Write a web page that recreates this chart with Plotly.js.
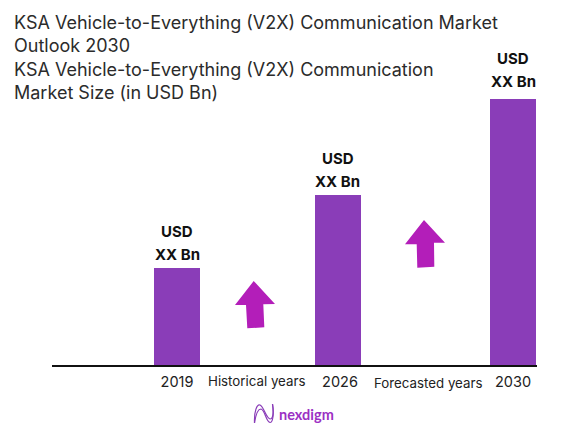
<!DOCTYPE html>
<html>
<head>
<meta charset="utf-8">
<script src="https://cdn.plot.ly/plotly-3.0.1.min.js"></script>
<style>html,body{margin:0;padding:0;background:#fff}</style>
</head>
<body>
<div id="chart" style="width:576px;height:438px"></div>
<script>
const titleLines = [
  "KSA Vehicle-to-Everything (V2X) Communication Market",
  "Outlook 2030",
  "KSA Vehicle-to-Everything (V2X) Communication",
  "Market Size (in USD Bn)"
];
const years = ["2019", "2026", "2030"];
const marketSize = [97, 170, 266];
const valueLabelTop = "USD";
const valueLabelBottom = "XX Bn";
const periodLabels = ["Historical years", "Forecasted years"];
const brandName = "nexdigm";

// Layout: the x axis is scaled in pixels of the picture.
const barCentres = [177, 337.5, 513];
const yearLabelCentres = [177, 340, 513];
const periodCentres = [256.5, 428];
const periodDrop = [6, 8];
const labelLift = [0, 0, 4];
const barColor = "#8A3DB8";
const arrowColor = "#B31EB9";
const textFont = "Inter, 'Liberation Sans', sans-serif";
const plot = {l: 52, r: 39, t: 66, b: 73, w: 485, h: 299};

const upArrows = [
  "M253.7,281 L275,304 L263.3,304.3 L264.3,327.3 L247.3,328.3 L246,305 L235,305 Z",
  "M424,220 L445,242.7 L434,242.7 L434.3,266.7 L417.3,267.7 L416.7,244.3 L405,244.3 Z"
];
const logoPaths = [
  "M254.5,423 C254,411 257,404 260,405 C264,407 266,418 270,419 C273,419 274,413 272.5,404",
  "M254.5,423 C256,413 258,409 261,409 C265,410 266,422 270,422.5 C273,422.5 274,414 272.5,404"
];
const toPaper = p => p.replace(/([\d.]+),([\d.]+)/g, (m, x, y) =>
  ((parseFloat(x) - plot.l) / plot.w).toFixed(5) + "," + ((plot.t + plot.h - parseFloat(y)) / plot.h).toFixed(5));

const annotations = [];
years.forEach((yr, i) => {
  annotations.push({x: barCentres[i], y: marketSize[i], xref: "x", yref: "y", text: valueLabelBottom,
    showarrow: false, yanchor: "bottom", yshift: 2 + labelLift[i], font: {family: textFont, size: 15, color: "#111", weight: 700}});
  annotations.push({x: barCentres[i], y: marketSize[i], xref: "x", yref: "y", text: valueLabelTop,
    showarrow: false, yanchor: "bottom", yshift: 25 + labelLift[i], font: {family: textFont, size: 15, color: "#111", weight: 700}});
});
periodLabels.forEach((t, i) => {
  annotations.push({x: periodCentres[i], y: 0, xref: "x", yref: "y", text: t, showarrow: false,
    yanchor: "top", yshift: -periodDrop[i], font: {family: textFont, size: 13.3, color: "#222"}});
});
annotations.push({x: 306.5, y: (plot.t + plot.h - 414) / plot.h, xref: "x", yref: "paper", text: brandName, showarrow: false,
  yanchor: "middle", font: {family: "Lato, sans-serif", size: 14.5, color: "#9B30C4", weight: 700}});

const shapes = upArrows.map(p => ({type: "path", path: toPaper(p), xref: "paper", yref: "paper", line: {width: 0}, fillcolor: arrowColor}));
logoPaths.forEach(p => shapes.push({type: "path", path: toPaper(p), xref: "paper", yref: "paper", line: {color: "#8A3DB8", width: 1.2}}));

const layout = {
  width: 576, height: 438,
  margin: {l: plot.l, r: plot.r, t: plot.t, b: plot.b},
  paper_bgcolor: "#fff", plot_bgcolor: "#fff",
  showlegend: false, bargap: 0,
  title: {text: titleLines.join("<br>"), x: 14 / 576, xanchor: "left", xref: "container",
    y: 1 - 29 / 438, yanchor: "top", yref: "container",
    font: {family: textFont, size: 18, color: "#2b2b2b"}},
  xaxis: {range: [52, 537], showgrid: false, zeroline: false, showline: true, linecolor: "#111", linewidth: 2,
    tickmode: "array", tickvals: yearLabelCentres, ticktext: years, ticks: "", ticklabelstandoff: 3,
    tickfont: {family: textFont, size: 14.5, color: "#222"}},
  yaxis: {range: [0, 299], visible: false, showgrid: false, zeroline: false},
  annotations: annotations,
  shapes: shapes
};

Plotly.newPlot("chart", [{
  type: "bar", x: barCentres, y: marketSize, width: 46,
  marker: {color: barColor, line: {width: 0}}, hoverinfo: "skip", cliponaxis: false
}], layout, {displayModeBar: false, staticPlot: true});
</script>
</body>
</html>
